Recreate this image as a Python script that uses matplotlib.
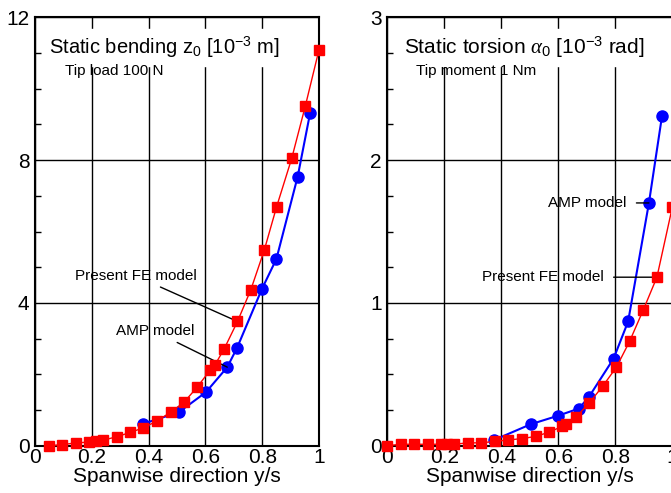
import numpy as np
import matplotlib.pyplot as plt
from matplotlib.ticker import MultipleLocator

plt.rcParams['font.family'] = ['Liberation Sans', 'DejaVu Sans']
plt.rcParams['mathtext.fontset'] = 'custom'
plt.rcParams['mathtext.rm'] = 'Liberation Sans'
plt.rcParams['mathtext.it'] = 'Liberation Serif:italic'

# static bending, tip load 100 N
bend_fe_x = [0.049, 0.096, 0.145, 0.191, 0.214, 0.238, 0.287, 0.335, 0.381, 0.429,
             0.478, 0.525, 0.571, 0.617, 0.634, 0.666, 0.713, 0.760, 0.807, 0.851,
             0.904, 0.952, 1.0]
bend_fe_y = [0.0, 0.03, 0.08, 0.1, 0.13, 0.15, 0.25, 0.37, 0.5, 0.69,
             0.94, 1.22, 1.64, 2.12, 2.27, 2.71, 3.48, 4.37, 5.47, 6.70,
             8.05, 9.52, 11.09]
bend_amp_x = [0.379, 0.507, 0.602, 0.677, 0.712, 0.799, 0.850, 0.925, 0.969]
bend_amp_y = [0.61, 0.94, 1.50, 2.20, 2.75, 4.39, 5.23, 7.54, 9.33]

# static torsion, tip moment 1 Nm
tors_fe_x = [0.0, 0.047, 0.094, 0.142, 0.188, 0.211, 0.234, 0.283, 0.33, 0.377,
             0.425, 0.473, 0.521, 0.568, 0.613, 0.628, 0.662, 0.709, 0.757, 0.804,
             0.850, 0.898, 0.946, 1.0]
tors_fe_y = [0.0, 0.01, 0.01, 0.01, 0.01, 0.01, 0.01, 0.02, 0.02, 0.03,
             0.04, 0.05, 0.065, 0.095, 0.135, 0.15, 0.2, 0.30, 0.42, 0.55,
             0.73, 0.95, 1.18, 1.67]
tors_amp_x = [0.375, 0.503, 0.599, 0.672, 0.707, 0.794, 0.845, 0.918, 0.964]
tors_amp_y = [0.04, 0.15, 0.21, 0.26, 0.34, 0.61, 0.87, 1.70, 2.31]

x_ticks = [0, 0.2, 0.4, 0.6, 0.8, 1.0]
x_labels = ['0', '0.2', '0.4', '0.6', '0.8', '1']
bend_ticks = [0, 4, 8, 12]
tors_ticks = [0, 1, 2, 3]

fig = plt.figure(figsize=(6.71, 4.93), dpi=100)
W, H = 671, 493
ax1 = fig.add_axes([35 / W, 47.3 / H, 284 / W, 428.4 / H])
ax2 = fig.add_axes([387.3 / W, 47.3 / H, 285 / W, 428.4 / H])


def style(ax, yticks, yminor):
    ax.set_xticks(x_ticks, x_labels)
    ax.set_yticks(yticks, [str(t) for t in yticks])
    ax.yaxis.set_minor_locator(MultipleLocator(yminor))
    ax.set_xlim(0, 1)
    ax.set_ylim(0, yticks[-1])
    ax.tick_params(axis='x', length=0, labelsize=15, pad=2)
    ax.tick_params(axis='y', which='major', direction='in', length=0, labelsize=15, pad=4)
    ax.tick_params(axis='y', which='minor', direction='in', length=4, width=1)
    ax.grid(True, color='black', lw=1)
    for s in ax.spines.values():
        s.set_linewidth(1.5)
    ax.set_xlabel('Spanwise direction y/s', fontsize=15, labelpad=0)


style(ax1, bend_ticks, 1)
style(ax2, tors_ticks, 0.25)

for ax, fx, fy, ax_, ay in [(ax1, bend_fe_x, bend_fe_y, bend_amp_x, bend_amp_y),
                            (ax2, tors_fe_x, tors_fe_y, tors_amp_x, tors_amp_y)]:
    ax.plot(ax_, ay, '-o', color='#0000ff', lw=1.5, ms=8, zorder=3, clip_on=False)
    ax.plot(fx, fy, '-s', color='#ff0000', lw=1.0, ms=7, zorder=4, clip_on=False)

ax1.text(0.05, 0.93, 'Static bending z$_0$ [10$^{-3}$ m]', transform=ax1.transAxes,
         fontsize=14.5, va='center', backgroundcolor='white')
ax1.text(0.105, 0.875, 'Tip load 100 N', transform=ax1.transAxes, fontsize=11, va='center')
ax2.text(0.06, 0.93, 'Static torsion $\\alpha_0$ [10$^{-3}$ rad]', transform=ax2.transAxes,
         fontsize=15, va='center', backgroundcolor='white')
ax2.text(0.1, 0.875, 'Tip moment 1 Nm', transform=ax2.transAxes, fontsize=11, va='center')

# leader annotations
ax1.annotate('Present FE model', xy=(bend_fe_x[16], bend_fe_y[16]), xytext=(0.57, 4.75),
             fontsize=11, ha='right', va='center',
             arrowprops=dict(arrowstyle='-', color='black', lw=1, shrinkA=2, shrinkB=0))
ax1.annotate('AMP model', xy=(bend_amp_x[3], bend_amp_y[3]), xytext=(0.56, 3.2),
             fontsize=11, ha='right', va='center',
             arrowprops=dict(arrowstyle='-', color='black', lw=1, shrinkA=2, shrinkB=0))
ax2.annotate('AMP model', xy=(tors_amp_x[7], tors_amp_y[7]), xytext=(0.84, 1.7),
             fontsize=11, ha='right', va='center',
             arrowprops=dict(arrowstyle='-', color='black', lw=1, shrinkA=5, shrinkB=0))
ax2.annotate('Present FE model', xy=(tors_fe_x[22], tors_fe_y[22]), xytext=(0.76, 1.18),
             fontsize=11, ha='right', va='center',
             arrowprops=dict(arrowstyle='-', color='black', lw=1, shrinkA=5, shrinkB=0))

fig.savefig('out.png', dpi=100)
